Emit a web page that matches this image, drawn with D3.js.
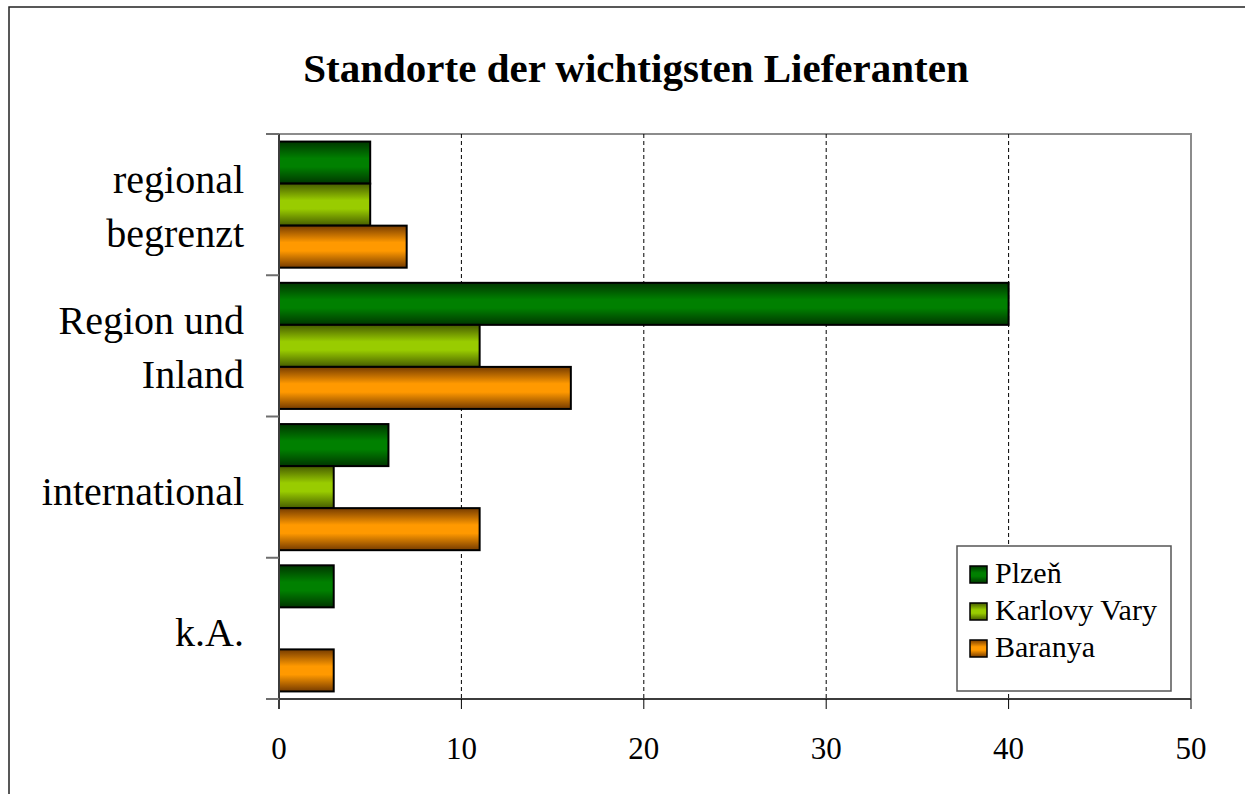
<!DOCTYPE html>
<html>
<head>
<meta charset="utf-8">
<script src="https://cdn.jsdelivr.net/npm/d3@7"></script>
<style>
  body { margin: 0; background: #ffffff; }
  svg text { font-family: "Liberation Serif", "Times New Roman", serif; fill: #000000; }
</style>
</head>
<body>
<div id="mydiv"></div>
<script>
const height = 794,
  width = 1245;

// plot area
const plotLeft = 279,
  plotRight = 1191,
  plotTop = 134,
  plotBottom = 699;

// Data
const categories = [
  ["regional", "begrenzt"],
  ["Region und", "Inland"],
  ["international"],
  ["k.A."],
];
const series = ["Plzeň", "Karlovy Vary", "Baranya"];
const plzen = [5, 40, 6, 3];
const karlovyVary = [5, 11, 3, 0];
const baranya = [7, 16, 11, 3];
const xTicks = [0, 10, 20, 30, 40, 50];

const values = [plzen, karlovyVary, baranya];
const colors = [
  { dark: "#003600", light: "#008000" },
  { dark: "#465c00", light: "#99cc00" },
  { dark: "#763b00", light: "#ff9900" },
];

let svg = d3
  .select("#mydiv")
  .append("svg")
  .attr("width", width)
  .attr("height", height)
  .attr("font-family", "Liberation Serif, Times New Roman, serif");

//Gradients for the bars
let defs = svg.append("defs");
colors.forEach((c, i) => {
  let g = defs
    .append("linearGradient")
    .attr("id", "grad" + i)
    .attr("x1", 0)
    .attr("y1", 0)
    .attr("x2", 0)
    .attr("y2", 1);
  g.append("stop").attr("offset", "0%").attr("stop-color", c.dark);
  g.append("stop").attr("offset", "40%").attr("stop-color", c.light);
  g.append("stop").attr("offset", "60%").attr("stop-color", c.light);
  g.append("stop").attr("offset", "100%").attr("stop-color", c.dark);
});

//Outer border
svg
  .append("rect")
  .attr("x", 9)
  .attr("y", 7)
  .attr("width", width + 20)
  .attr("height", height + 20)
  .attr("fill", "#ffffff")
  .attr("stroke", "#222222")
  .attr("stroke-width", 1.5);

//Scales
let xScale = d3.scaleLinear().domain([0, 50]).range([plotLeft, plotRight]);
let yScale = d3
  .scaleBand()
  .domain(d3.range(categories.length))
  .range([plotTop, plotBottom])
  .padding(0);
let ySub = d3
  .scaleBand()
  .domain(d3.range(series.length))
  .range([0, yScale.bandwidth()])
  .paddingInner(0)
  .paddingOuter(0.18);

//Plot area frame (top and right)
svg
  .append("path")
  .attr("d", `M${plotLeft},${plotTop}H${plotRight}V${plotBottom}`)
  .attr("fill", "none")
  .attr("stroke", "#8c8c8c")
  .attr("stroke-width", 2);

//Grid lines
svg
  .append("g")
  .selectAll("line")
  .data(xTicks.filter((d) => d > 0 && d < 50))
  .enter()
  .append("line")
  .attr("x1", (d) => xScale(d))
  .attr("x2", (d) => xScale(d))
  .attr("y1", plotTop)
  .attr("y2", plotBottom)
  .attr("stroke", "#000000")
  .attr("stroke-width", 1)
  .attr("stroke-dasharray", "4,3");

//Bars
categories.forEach((cat, ci) => {
  series.forEach((s, si) => {
    let v = values[si][ci];
    if (v <= 0) return;
    svg
      .append("rect")
      .attr("x", xScale(0))
      .attr("y", yScale(ci) + ySub(si))
      .attr("width", xScale(v) - xScale(0))
      .attr("height", ySub.bandwidth())
      .attr("fill", "url(#grad" + si + ")")
      .attr("stroke", "#000000")
      .attr("stroke-width", 2);
  });
});

//X axis
let xAxis = svg
  .append("g")
  .attr("transform", `translate(0, ${plotBottom})`);
xAxis
  .append("line")
  .attr("x1", plotLeft)
  .attr("x2", plotRight)
  .attr("stroke", "#3c3c3c")
  .attr("stroke-width", 2);
xAxis
  .selectAll(".tick")
  .data(xTicks)
  .enter()
  .append("line")
  .attr("x1", (d) => xScale(d))
  .attr("x2", (d) => xScale(d))
  .attr("y1", 0)
  .attr("y2", 10)
  .attr("stroke", "#000000")
  .attr("stroke-width", 1);
xAxis
  .selectAll("text")
  .data(xTicks)
  .enter()
  .append("text")
  .attr("x", (d) => xScale(d))
  .attr("y", 60)
  .attr("text-anchor", "middle")
  .style("font-size", "31px")
  .text((d) => d);

//Y axis
let yAxis = svg.append("g");
yAxis
  .append("line")
  .attr("x1", plotLeft)
  .attr("x2", plotLeft)
  .attr("y1", plotTop)
  .attr("y2", plotBottom + 10)
  .attr("stroke", "#3c3c3c")
  .attr("stroke-width", 2);
yAxis
  .selectAll(".tick")
  .data(d3.range(categories.length + 1))
  .enter()
  .append("line")
  .attr("x1", plotLeft - 13)
  .attr("x2", plotLeft)
  .attr("y1", (d) => plotTop + d * yScale.step())
  .attr("y2", (d) => plotTop + d * yScale.step())
  .attr("stroke", "#6e6e6e")
  .attr("stroke-width", 2);

//Category labels
categories.forEach((lines, ci) => {
  let cy = yScale(ci) + yScale.bandwidth() / 2;
  let t = svg
    .append("text")
    .attr("text-anchor", "end")
    .style("font-size", "40px");
  lines.forEach((line, li) => {
    let y = lines.length == 1 ? cy + 18 : cy - 12 + li * 54;
    t.append("tspan").attr("x", 244).attr("y", y).text(line);
  });
});

//Title
svg
  .append("text")
  .attr("x", 636)
  .attr("y", 82)
  .attr("text-anchor", "middle")
  .style("font-size", "41px")
  .style("font-weight", "bold")
  .text("Standorte der wichtigsten Lieferanten");

//Legend
let legend = svg.append("g").attr("transform", "translate(957, 546)");
legend
  .append("rect")
  .attr("width", 214)
  .attr("height", 145)
  .attr("fill", "#ffffff")
  .attr("stroke", "#555555")
  .attr("stroke-width", 1.5);
series.forEach((s, si) => {
  let row = legend
    .append("g")
    .attr("transform", `translate(0, ${37 + si * 37})`);
  row
    .append("rect")
    .attr("x", 13)
    .attr("y", -17)
    .attr("width", 17)
    .attr("height", 17)
    .attr("fill", "url(#grad" + si + ")")
    .attr("stroke", "#000000")
    .attr("stroke-width", 1.5);
  row
    .append("text")
    .attr("x", 38)
    .attr("y", 0)
    .style("font-size", "30px")
    .text(s);
});
</script>
</body>
</html>
